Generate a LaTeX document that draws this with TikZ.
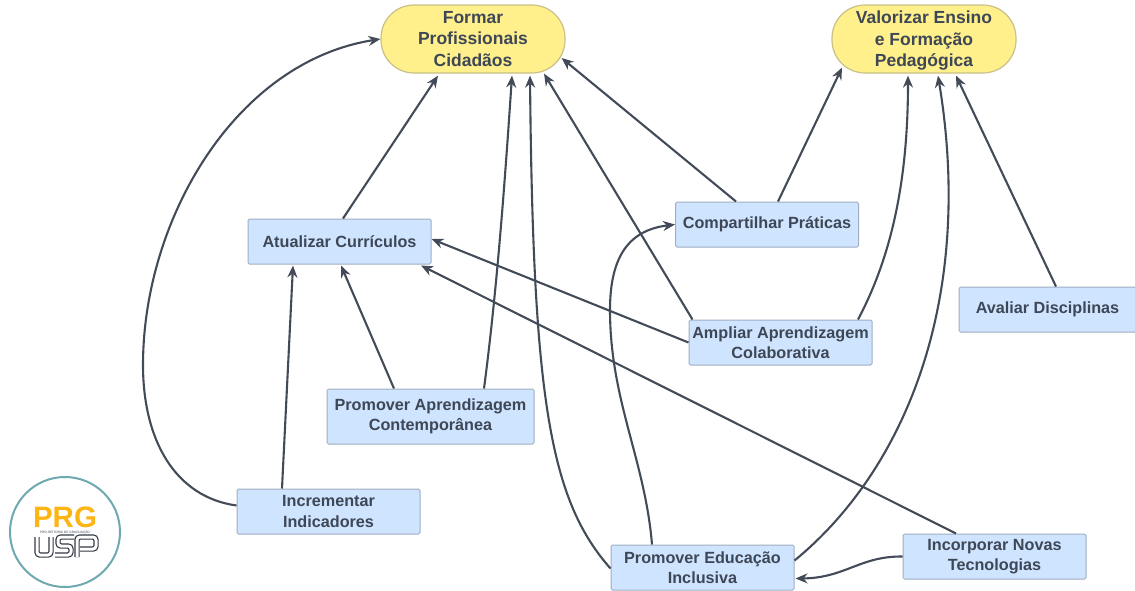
\documentclass[tikz,border=0pt]{standalone}
\usepackage{fontspec}
\setmainfont{Liberation Sans}
\usetikzlibrary{arrows.meta}
\definecolor{goalfill}{HTML}{FFF08C}
\definecolor{goalline}{HTML}{C9C088}
\definecolor{actfill}{HTML}{CFE4FF}
\definecolor{actline}{HTML}{9FAEC2}
\definecolor{inktext}{HTML}{3E4756}
\definecolor{linkline}{HTML}{434B59}
\definecolor{prgorange}{HTML}{FDB515}
\definecolor{ringteal}{HTML}{6FA9B0}

\begin{document}
\begin{tikzpicture}[%
      x=1pt, y=-1pt,
      every node/.style={align=center, text=inktext, inner sep=0pt,
                         font={\fontsize{16.2}{20.5}\selectfont\bfseries}},
      goal/.style={draw=goalline, fill=goalfill, line width=1.2pt,
                   rounded corners=33pt, minimum width=184pt, minimum height=68pt,
                   font={\fontsize{17.5}{21.5}\selectfont\bfseries}},
      act/.style={draw=actline, fill=actfill, line width=1pt,
                  rounded corners=1.5pt, minimum width=183pt, minimum height=45pt},
      link/.style={draw=linkline, line width=2.1pt,
                   -{Stealth[length=12pt,width=10pt]}},
      logoline/.style={double=white, double distance=3pt, draw=inktext!80!black,
                       line width=1.2pt, rounded corners=3pt}
    ]
    \useasboundingbox (0,0) rectangle (1135,590);
    \node [goal] (E formar) at (473,39) {Formar\\Profissionais\\Cidadãos};
    \node [goal, text depth=0pt] (E valorizar) at (924,39) {Valorizar Ensino\\e Formação\\Pedagógica};
    \node [act] (E atualizar) at (339.5,241.5) {Atualizar Currículos};
    \node [act] (E compartilhar) at (767,224.5) {Compartilhar Práticas};
    \node [act, minimum width=177pt] (E avaliar) at (1047.5,309.5) {Avaliar Disciplinas};
    \node [act] (E ampliar) at (780.5,342.5) {Ampliar Aprendizagem\\Colaborativa};
    \node [act, minimum width=207pt, minimum height=55pt] (E contemp) at (430.5,416.5)
     {Promover Aprendizagem\\Contemporânea};
    \node [act] (E indicadores) at (328.5,511.5) {Incrementar\\Indicadores};
    \node [act] (E inclusiva) at (702.5,567.5) {Promover Educação\\Inclusiva};
    \node [act] (E tecnologias) at (994.5,556.5) {Incorporar Novas\\Tecnologias};

    % into the two goals
    \draw [link] ([yshift=6pt]E indicadores.west) .. controls (175,497) and (143,440) .. (143,365)
     .. controls (143,220) and (235,62) .. (E formar.west);
    \draw [link] ([xshift=3.5pt]E atualizar.north) -- ([xshift=-35pt,yshift=-2pt]E formar.south);
    \draw [link] ([xshift=53.5pt]E contemp.north) .. controls (497,290) and (505,180) .. ([xshift=39pt,yshift=-2pt]E formar.south);
    \draw [link] ([yshift=-1pt]E inclusiva.west) .. controls (550,500) and (533,400) .. ([xshift=57pt,yshift=-2pt]E formar.south);
    \draw [link] ([xshift=-88pt]E ampliar.north) -- ([xshift=71pt]E formar.south);
    \draw [link] ([xshift=-31pt]E compartilhar.north) -- ([xshift=-4pt,yshift=-19pt]E formar.east);
    \draw [link] ([xshift=11pt]E compartilhar.north) -- ([xshift=-82pt,yshift=6pt]E valorizar.south);
    \draw [link] ([xshift=77.5pt]E ampliar.north) .. controls (895,250) and (908,170) .. ([xshift=-16pt,yshift=-2pt]E valorizar.south);
    \draw [link] ([yshift=7pt]E inclusiva.east) .. controls (905,470) and (975,300) .. ([xshift=14pt,yshift=-2pt]E valorizar.south);
    \draw [link] ([xshift=8.5pt]E avaliar.north) -- ([xshift=32pt,yshift=-2pt]E valorizar.south);

    % the others
    \draw [link] ([xshift=-50.5pt]E inclusiva.north)
     .. controls (645,460) and (610,400) .. (610,310)
     .. controls (610,255) and (630,230) .. (E compartilhar.west);
    \draw [link] ([xshift=-46.5pt]E indicadores.north) -- ([xshift=-46.5pt,yshift=-1pt]E atualizar.south);
    \draw [link] ([xshift=-36.5pt]E contemp.north) -- ([xshift=1.5pt,yshift=-1pt]E atualizar.south);
    \draw [link] (E ampliar.west) -- ([yshift=2.5pt]E atualizar.east);
    \draw [link] ([xshift=-38.5pt]E tecnologias.north) -- ([xshift=81.5pt,yshift=-1pt]E atualizar.south);
    \draw [link] (E tecnologias.west) .. controls (860,556) and (845,578) .. ([xshift=1pt,yshift=-11pt]E inclusiva.east);

    % logo
    \node [draw=ringteal, line width=2pt, fill=white, circle, minimum size=110pt] (E ring) at (65,532) {};
    \node [text=prgorange, anchor=base, font={\fontsize{29.5}{30}\selectfont\bfseries}] (E prg) at (65,527.5) {PRG};
    \node [anchor=north, font={\fontsize{3.2}{3.5}\selectfont}] (E prgsub) at (65,530.5) {PRÓ-REITORIA DE GRADUAÇÃO};
    \draw [logoline] (37,537) -- (37,555) -- (51,555) -- (51,537);
    \draw [logoline] (74,537) -- (58,537) -- (58,546) -- (71,546) -- (71,555) -- (55,555);
    \draw [logoline] (77,557) -- (77,537) -- (96,537) -- (96,549) -- (80,549);
\end{tikzpicture}
\end{document}
